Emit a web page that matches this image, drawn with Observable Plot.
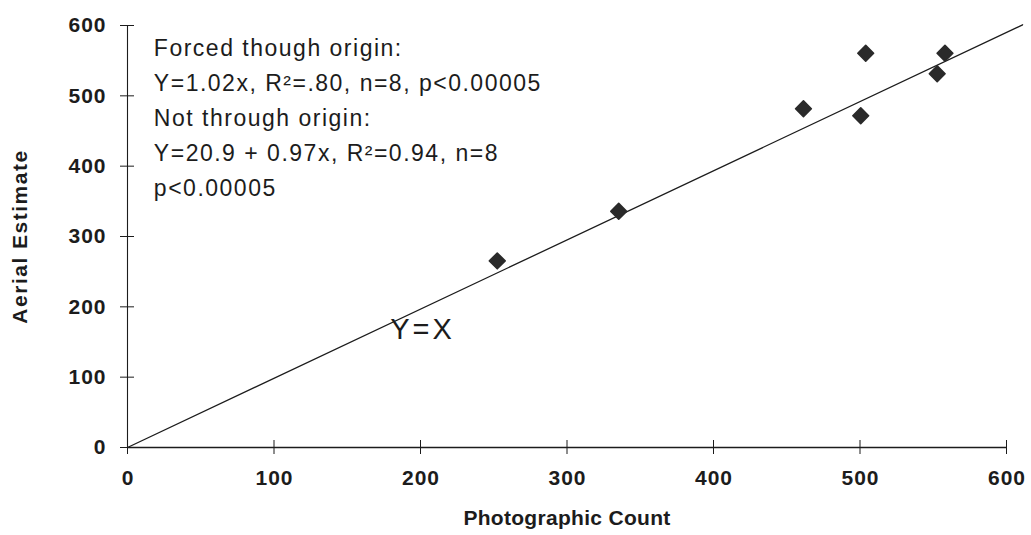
<!DOCTYPE html>
<html>
<head>
<meta charset="utf-8">
<script src="https://cdn.jsdelivr.net/npm/d3@7"></script>
<script src="https://cdn.jsdelivr.net/npm/@observablehq/plot@0.6"></script>
<style>
  html, body { margin: 0; padding: 0; background: #fff; }
  #chart svg { display: block; }
  g[aria-description="annotation"] text { letter-spacing: 1.5px; }
  g[aria-description="ref label"] text { letter-spacing: 3px; }
  g[aria-description="x tick labels"] text, g[aria-description="y tick labels"] text { letter-spacing: 1px; }
  g[aria-description="y title"] text { letter-spacing: 1.5px; }
  g[aria-description="x title"] text { letter-spacing: 0.3px; }
</style>
</head>
<body>
<div id="chart"></div>
<script>
// Data
const photographicCount = [252.4, 335.3, 461.4, 500.5, 503.9, 552.7, 558.0];
const aerialEstimate    = [265.3, 335.8, 481.7, 471.7, 560.6, 531.4, 560.6];
const xTicks = [0, 100, 200, 300, 400, 500, 600];
const yTicks = [0, 100, 200, 300, 400, 500, 600];
const refLineX = [0, 611];
const refLineY = [0, 601];
const refLabel = "Y=X";
const annotationLines = [
  "Forced though origin:",
  "Y=1.02x, R\u00B2=.80, n=8, p<0.00005",
  "Not through origin:",
  "Y=20.9 + 0.97x, R\u00B2=0.94, n=8",
  "p<0.00005"
];
const xLabel = "Photographic Count";
const yLabel = "Aerial Estimate";

const points = photographicCount.map((x, i) => ({x, y: aerialEstimate[i]}));
const refLine = refLineX.map((x, i) => ({x, y: refLineY[i]}));

const ink = "#1c1c1c";
const font = "'Liberation Sans', Arial, sans-serif";

const chart = Plot.plot({
  width: 1031,
  height: 535,
  marginLeft: 127,
  marginRight: 25,
  marginTop: 25,
  marginBottom: 88,
  style: {fontFamily: font, color: ink, background: "#fff"},
  x: {domain: [0, 600], axis: null},
  y: {domain: [0, 600], axis: null},
  marks: [
    // axis lines
    Plot.ruleY([0], {stroke: ink, strokeWidth: 1.3}),
    Plot.ruleX([0], {stroke: ink, strokeWidth: 1.1}),
    // x ticks crossing the axis
    Plot.ruleX(xTicks, {x: d => d, y1: 0, y2: 0, insetTop: -7, insetBottom: -7, stroke: ink, strokeWidth: 1}),
    // y ticks crossing the axis
    Plot.ruleY(yTicks, {y: d => d, x1: 0, x2: 0, insetLeft: -7, insetRight: -7, stroke: ink, strokeWidth: 1}),
    // tick labels
    Plot.text(xTicks, {x: d => d, y: 0, dy: 31, dx: 0.5, text: d => String(d), fontSize: 21, fontWeight: "bold", fill: ink, ariaDescription: "x tick labels"}),
    Plot.text(yTicks, {x: 0, y: d => d, dx: -21, text: d => String(d), textAnchor: "end", fontSize: 21, fontWeight: "bold", fill: ink, ariaDescription: "y tick labels"}),
    // axis titles
    Plot.text([xLabel], {x: 300, y: 0, dy: 71, text: d => d, fontSize: 21, fontWeight: "bold", fill: ink, ariaDescription: "x title"}),
    Plot.text([yLabel], {x: 0, y: 300, dx: -107, rotate: -90, text: d => d, fontSize: 21, fontWeight: "bold", fill: ink, ariaDescription: "y title"}),
    // reference line
    Plot.line(refLine, {x: "x", y: "y", stroke: ink, strokeWidth: 1.3}),
    Plot.text([refLabel], {x: 200, y: 167, dx: 2, text: d => d, fontSize: 29, fill: ink, ariaDescription: "ref label"}),
    // annotation
    Plot.text([annotationLines.join("\n")], {x: 18, y: 600, dy: 6, text: d => d, textAnchor: "start", lineAnchor: "top", lineHeight: 1.52, fontSize: 23, fill: ink, ariaDescription: "annotation"}),
    // points
    Plot.dot(points, {x: "x", y: "y", symbol: "diamond2", r: 7.1, fill: "#2a2a2a", stroke: "#2a2a2a", strokeWidth: 1.6, strokeLinejoin: "round"})
  ]
});
document.getElementById("chart").appendChild(chart);
</script>
</body>
</html>
